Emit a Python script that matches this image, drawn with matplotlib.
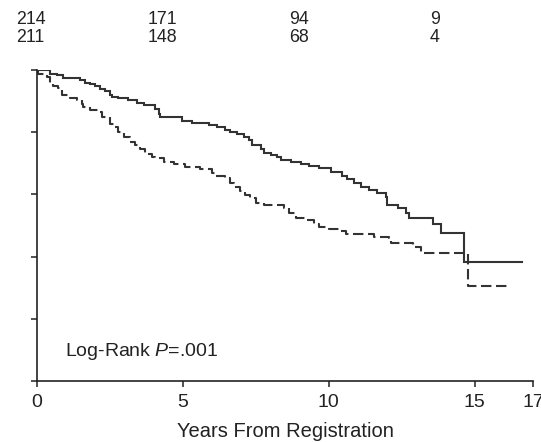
import numpy as np
import matplotlib
matplotlib.use('Agg')
import matplotlib.pyplot as plt

plt.rcParams['font.family'] = ['Liberation Sans', 'DejaVu Sans']
plt.rcParams['mathtext.fontset'] = 'custom'
plt.rcParams['mathtext.rm'] = 'Liberation Sans'
plt.rcParams['mathtext.it'] = 'Liberation Sans:italic'

# survival curves (years, percent surviving), step after each time
solid_t = [0, 0.447, 0.677, 0.903, 1.477, 1.649, 1.821, 1.992, 2.164, 2.336, 2.508, 2.566,
           2.793, 3.136, 3.425, 3.652, 4.054, 4.167, 4.225, 4.971, 5.314, 5.885, 6.173,
           6.458, 6.630, 6.860, 7.087, 7.259, 7.376, 7.661, 7.774, 8.004, 8.234, 8.348,
           8.691, 9.035, 9.320, 9.663, 10.065, 10.467, 10.639, 10.866, 11.096, 11.381,
           11.670, 11.955, 12.013, 12.357, 12.642, 12.755, 13.559, 13.844, 14.645, 16.62]
solid_s = [100, 98.8, 98.3, 97.5, 96.7, 95.9, 95.4, 94.8, 94.0, 93.2, 92.1, 91.3,
           91.0, 90.3, 89.5, 88.6, 87.6, 85.9, 85.0, 83.7, 82.9, 82.3, 81.8,
           80.7, 80.1, 79.4, 78.6, 77.5, 75.9, 74.5, 73.4, 72.7, 72.1, 71.1,
           70.5, 69.8, 69.2, 68.4, 67.3, 65.9, 64.9, 63.8, 62.5, 61.4,
           60.4, 59.3, 56.6, 55.5, 53.9, 52.3, 50.5, 47.5, 38.4, 38.4]

dashed_t = [0, 0.05, 0.333, 0.447, 0.560, 0.732, 0.849, 1.134, 1.364, 1.536, 1.591, 1.821,
            2.106, 2.223, 2.508, 2.679, 2.793, 2.965, 3.195, 3.366, 3.538, 3.710, 3.940,
            4.054, 4.339, 4.682, 5.084, 5.600, 6.001, 6.115, 6.458, 6.630, 6.743, 6.974,
            7.145, 7.317, 7.489, 7.774, 8.461, 8.633, 8.863, 9.265, 9.492, 9.663, 10.007,
            10.350, 10.580, 11.553, 12.068, 12.126, 12.872, 13.157, 14.761, 16.16]
dashed_s = [100, 98.8, 97.7, 95.8, 94.8, 94.2, 92.1, 91.0, 90.5, 89.2, 88.1, 87.0,
            86.5, 84.9, 82.7, 81.7, 80.1, 78.5, 76.8, 75.8, 74.5, 73.1, 72.0,
            71.6, 70.5, 69.8, 68.7, 68.1, 67.0, 65.9, 65.2, 63.8, 62.3, 61.2,
            59.8, 58.7, 57.1, 56.6, 55.5, 53.9, 52.3, 51.8, 50.5, 49.6, 48.8,
            48.3, 47.3, 46.4, 45.9, 44.5, 43.2, 41.1, 30.5, 30.5]

at_risk_top = ['214', '171', '94', '9']
at_risk_bottom = ['211', '148', '68', '4']
at_risk_px = [16, 148, 289, 430]  # left edge of each column, pixels

x_ticks = [0, 5, 10, 15, 17]
y_ticks = [0, 20, 40, 60, 80, 100]

W, H = 541, 442
fig = plt.figure(figsize=(W / 100, H / 100), dpi=100)
ax = fig.add_axes([37 / W, (H - 381) / H, (533 - 37) / W, (381 - 70) / H])

line_col = '#333333'
ax.step(solid_t, solid_s, where='post', color=line_col, lw=1.5, solid_joinstyle='miter')
ax.step(dashed_t, dashed_s, where='post', color=line_col, lw=1.5, dashes=(5, 2.2))

ax.set_xlim(0, 17)
ax.set_ylim(0, 100)
ax.set_xticks(x_ticks)
ax.set_yticks(y_ticks)
ax.set_yticklabels([])
for side in ('top', 'right'):
    ax.spines[side].set_visible(False)
for side in ('left', 'bottom'):
    ax.spines[side].set_color('#222222')
    ax.spines[side].set_linewidth(1.2)
ax.tick_params(direction='out', length=4.5, width=1.1, colors='#222222', labelsize=14, pad=5)
ax.set_xlabel('Years From Registration', fontsize=14.5, color='#222222', labelpad=8)

ax.text(0.96, 9.6, 'Log-Rank $P$=.001', fontsize=14, color='#222222', va='center', ha='left')

for lbl_top, lbl_bot, px in zip(at_risk_top, at_risk_bottom, at_risk_px):
    fig.text(px / W, 1 - 19 / H, lbl_top, fontsize=12.8, color='#222222', va='center', ha='left')
    fig.text(px / W, 1 - 38 / H, lbl_bot, fontsize=12.8, color='#222222', va='center', ha='left')

fig.savefig('out.png', dpi=100)
